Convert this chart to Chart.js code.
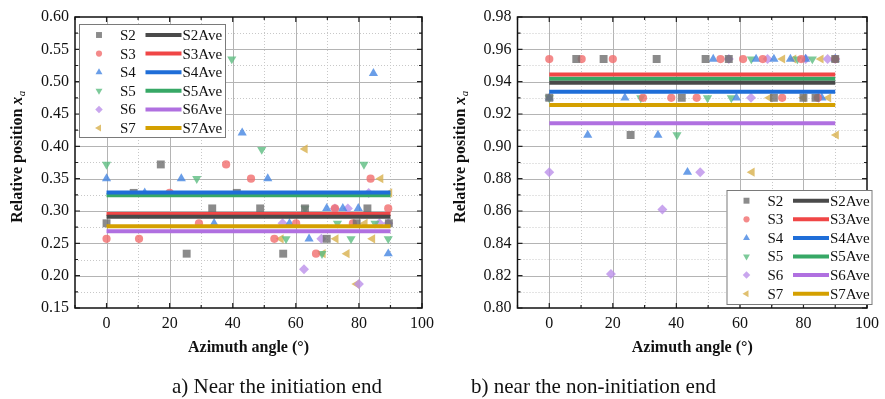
<!DOCTYPE html>
<html>
<head>
<meta charset="utf-8">
<script src="https://cdn.jsdelivr.net/npm/chart.js@4.4.1/dist/chart.umd.min.js"></script>
<style>
  body { margin: 0; background: #fff; width: 885px; height: 399px; overflow: hidden; position: relative; font-family: "Liberation Serif", serif; }
  #wa { position: absolute; left: 0; top: 0; width: 440px; height: 399px; }
  #wb { position: absolute; left: 440px; top: 0; width: 445px; height: 399px; }
  .cap { position: absolute; top: 373px; font-size: 21px; line-height: 26px; white-space: nowrap; color: #111; }
</style>
</head>
<body>
<div id="wa"><canvas id="chartA" width="440" height="399"></canvas></div>
<div id="wb"><canvas id="chartB" width="445" height="399"></canvas></div>
<div class="cap" style="left:172px">a) Near the initiation end</div>
<div class="cap" style="left:471px">b) near the non-initiation end</div>
<script>
// series names
var seriesNames = ['S2', 'S3', 'S4', 'S5', 'S6', 'S7'];
var aveNames = ['S2Ave', 'S3Ave', 'S4Ave', 'S5Ave', 'S6Ave', 'S7Ave'];

// a) near the initiation end  (angle, relative position)
var angA_S2 = [0, 8.6, 17.2, 25.4, 33.5, 41.3, 48.7, 56, 62.9, 69.8, 79.3, 82.7, 89.5];
var posA_S2 = [0.281, 0.328, 0.372, 0.234, 0.304, 0.328, 0.304, 0.234, 0.304, 0.257, 0.281, 0.304, 0.281];
var angA_S3 = [0, 10.3, 20, 29.3, 37.9, 45.8, 53.2, 60.1, 66.4, 72.4, 78.1, 83.7, 89.3];
var posA_S3 = [0.257, 0.257, 0.328, 0.281, 0.372, 0.35, 0.257, 0.281, 0.234, 0.304, 0.281, 0.35, 0.304];
var angA_S4 = [0, 12.1, 23.7, 34.1, 43, 51.1, 58, 64.2, 69.8, 74.9, 79.8, 84.6, 89.3];
var posA_S4 = [0.35, 0.328, 0.35, 0.281, 0.421, 0.35, 0.281, 0.257, 0.304, 0.304, 0.304, 0.513, 0.234];
var angA_S5 = [0, 28.6, 39.7, 49.2, 56.9, 62.9, 68.3, 73.2, 77.5, 81.6, 85.1, 89.3];
var posA_S5 = [0.372, 0.35, 0.535, 0.395, 0.257, 0.304, 0.234, 0.281, 0.257, 0.372, 0.281, 0.257];
var angA_S6 = [55.8, 62.6, 68.1, 72.4, 76.5, 80, 83.1, 86.5, 89.3];
var posA_S6 = [0.281, 0.21, 0.257, 0.304, 0.304, 0.187, 0.328, 0.281, 0.281];
var angA_S7 = [55.3, 62.9, 68.6, 72.7, 76.2, 79.3, 81.9, 84.3, 86.9, 89.7];
var posA_S7 = [0.257, 0.396, 0.234, 0.257, 0.234, 0.187, 0.281, 0.257, 0.35, 0.328];
var aveA = [0.2913, 0.2952, 0.3285, 0.3245, 0.2687, 0.2764];

// b) near the non-initiation end
var angB_S2 = [0, 8.5, 17.1, 25.6, 33.8, 41.7, 49.2, 56.5, 70.7, 80, 83.8, 90];
var posB_S2 = [0.930, 0.954, 0.954, 0.907, 0.954, 0.930, 0.954, 0.954, 0.930, 0.930, 0.930, 0.954];
var angB_S3 = [0, 10.2, 20, 29.5, 38.4, 46.4, 53.9, 61, 67.2, 73.3, 79.3, 84.5, 90];
var posB_S3 = [0.954, 0.954, 0.954, 0.930, 0.930, 0.930, 0.954, 0.954, 0.954, 0.930, 0.954, 0.930, 0.954];
var angB_S4 = [0, 12.1, 23.8, 34.2, 43.5, 51.6, 58.9, 65.1, 70.7, 75.9, 80.7, 85.8, 90];
var posB_S4 = [0.930, 0.907, 0.930, 0.907, 0.884, 0.954, 0.930, 0.954, 0.954, 0.954, 0.954, 0.930, 0.954];
var angB_S5 = [0, 28.8, 40.2, 49.8, 57.3, 63.6, 78.1, 82.8];
var posB_S5 = [0.930, 0.930, 0.907, 0.930, 0.930, 0.954, 0.954, 0.954];
var angB_S6 = [0, 19.4, 35.6, 47.5, 56.5, 63.5, 68.7, 80.7, 84.8, 87.6, 90];
var posB_S6 = [0.884, 0.821, 0.861, 0.884, 0.954, 0.930, 0.954, 0.954, 0.930, 0.954, 0.954];
var angB_S7 = [63.8, 69.3, 73.4, 76.9, 80, 85.5, 87.9, 90.3];
var posB_S7 = [0.884, 0.930, 0.954, 0.954, 0.930, 0.954, 0.930, 0.907];
var aveB = [0.9393, 0.9445, 0.9338, 0.9418, 0.9143, 0.9255];

// average lines run over the measured range
var aveSpan = [0, 90];

// tick labels
var xTickLabels = [0, 20, 40, 60, 80, 100];
var yTickLabelsA = [0.15, 0.20, 0.25, 0.30, 0.35, 0.40, 0.45, 0.50, 0.55, 0.60];
var yTickLabelsB = [0.80, 0.82, 0.84, 0.86, 0.88, 0.90, 0.92, 0.94, 0.96, 0.98];

// styles
var markerColors = ['rgba(110,110,110,0.8)', 'rgba(241,109,109,0.8)', 'rgba(69,134,226,0.8)',
                    'rgba(92,189,129,0.8)', 'rgba(188,144,234,0.8)', 'rgba(216,176,76,0.8)'];
var lineColors = ['#4a4a4a', '#f04646', '#1f6ed8', '#37a866', '#b070e0', '#d4a000'];
var markerStyles = ['rect', 'circle', 'triangle', 'triangle', 'rectRot', 'triangle'];
var markerRot = [0, 0, 0, 180, 0, 270];
var markerSize = [5.6, 4.1, 5.3, 5.3, 5, 5.3];

var FONT = '"Liberation Serif", "Times New Roman", serif';

function pts(xs, ys) {
  return xs.map(function (v, i) { return { x: v, y: ys[i] }; });
}

function buildDatasets(angles, positions, aves) {
  var sets = [];
  seriesNames.forEach(function (name, i) {
    sets.push({
      type: 'scatter',
      label: name,
      data: pts(angles[i], positions[i]),
      pointStyle: markerStyles[i],
      rotation: markerRot[i],
      radius: markerSize[i],
      pointRadius: markerSize[i],
      pointHoverRadius: markerSize[i],
      backgroundColor: markerColors[i],
      borderWidth: 0,
      order: 2
    });
  });
  aveNames.forEach(function (name, i) {
    sets.push({
      type: 'line',
      label: name,
      data: pts(aveSpan, [aves[i], aves[i]]),
      borderColor: lineColors[i],
      borderWidth: 4,
      borderCapStyle: 'butt',
      pointRadius: 0,
      fill: false,
      order: 1
    });
  });
  return sets;
}

function drawMarker(ctx, style, rot, r, x, y) {
  ctx.save();
  ctx.translate(x, y);
  ctx.rotate(rot * Math.PI / 180);
  ctx.beginPath();
  if (style === 'rect') {
    var s = r * Math.SQRT1_2;
    ctx.rect(-s, -s, 2 * s, 2 * s);
  } else if (style === 'circle') {
    ctx.arc(0, 0, r, 0, Math.PI * 2);
  } else if (style === 'rectRot') {
    ctx.moveTo(0, -r); ctx.lineTo(r, 0); ctx.lineTo(0, r); ctx.lineTo(-r, 0);
  } else {
    ctx.moveTo(0, -r);
    ctx.lineTo(r * Math.cos(Math.PI / 6), r * Math.sin(Math.PI / 6));
    ctx.lineTo(-r * Math.cos(Math.PI / 6), r * Math.sin(Math.PI / 6));
  }
  ctx.closePath();
  ctx.fill();
  ctx.restore();
}

// grid, frame, inward ticks, titles and the two-column legend
var decor = {
  id: 'decor',
  beforeDatasetsDraw: function (chart, args, o) {
    var ctx = chart.ctx, a = chart.chartArea, xs = chart.scales.x, ys = chart.scales.y;
    ctx.save();
    ctx.lineWidth = 1;
    var i, v, p;
    for (i = 1; i < 11; i++) {
      v = -10 + i * 10;
      p = Math.round(xs.getPixelForValue(v)) + 0.5;
      if (v % 20 === 0) { ctx.setLineDash([]); ctx.strokeStyle = '#b4b4b4'; }
      else { ctx.setLineDash([1, 2]); ctx.strokeStyle = '#c8c8c8'; }
      ctx.beginPath(); ctx.moveTo(p, a.top); ctx.lineTo(p, a.bottom); ctx.stroke();
    }
    for (i = 1; i < o.yCount; i++) {
      v = o.yMin + i * o.yStep;
      p = Math.round(ys.getPixelForValue(v)) + 0.5;
      if (i % 2 === 0) { ctx.setLineDash([]); ctx.strokeStyle = '#b4b4b4'; }
      else { ctx.setLineDash([1, 2]); ctx.strokeStyle = '#c8c8c8'; }
      ctx.beginPath(); ctx.moveTo(a.left, p); ctx.lineTo(a.right, p); ctx.stroke();
    }
    ctx.restore();
  },
  afterDatasetsDraw: function (chart, args, o) {
    var ctx = chart.ctx, a = chart.chartArea, xs = chart.scales.x, ys = chart.scales.y;
    ctx.save();
    ctx.setLineDash([]);
    ctx.strokeStyle = '#222';
    ctx.lineWidth = 1.2;
    var i, v, p, len;
    for (i = 0; i <= 11; i++) {
      v = -10 + i * 10;
      p = xs.getPixelForValue(v);
      len = v % 20 === 0 ? 5 : 3;
      ctx.beginPath();
      ctx.moveTo(p, a.bottom); ctx.lineTo(p, a.bottom - len);
      ctx.moveTo(p, a.top); ctx.lineTo(p, a.top + len);
      ctx.stroke();
    }
    for (i = 0; i <= o.yCount; i++) {
      v = o.yMin + i * o.yStep;
      p = ys.getPixelForValue(v);
      len = i % 2 === 0 ? 5 : 3;
      ctx.beginPath();
      ctx.moveTo(a.left, p); ctx.lineTo(a.left + len, p);
      ctx.moveTo(a.right, p); ctx.lineTo(a.right - len, p);
      ctx.stroke();
    }
    ctx.lineWidth = 1.5;
    ctx.strokeStyle = '#111';
    ctx.strokeRect(a.left, a.top, a.right - a.left, a.bottom - a.top);

    // axis titles
    ctx.fillStyle = '#111';
    ctx.font = 'bold 16px ' + FONT;
    ctx.textAlign = 'center';
    ctx.textBaseline = 'middle';
    ctx.fillText('Azimuth angle (°)', (a.left + a.right) / 2, 348);

    ctx.save();
    ctx.translate(o.yTitleX, o.yTitleY);
    ctx.rotate(-Math.PI / 2);
    ctx.textBaseline = 'alphabetic';
    ctx.textAlign = 'left';
    var t1 = 'Relative position ';
    ctx.font = 'bold 16px ' + FONT;
    var w1 = ctx.measureText(t1).width;
    ctx.font = 'bold italic 16px ' + FONT;
    var w2 = ctx.measureText('x').width;
    ctx.font = 'italic 11px ' + FONT;
    var w3 = ctx.measureText('a').width;
    var x0 = -(w1 + w2 + w3) / 2;
    ctx.font = 'bold 16px ' + FONT;
    ctx.fillText(t1, x0, 0);
    ctx.font = 'bold italic 16px ' + FONT;
    ctx.fillText('x', x0 + w1, 0);
    ctx.font = 'italic 11px ' + FONT;
    ctx.fillText('a', x0 + w1 + w2 + 0.5, 3);
    ctx.restore();

    // legend
    var L = o.legend;
    ctx.fillStyle = '#fff';
    ctx.fillRect(L.x, L.y, L.w, L.h);
    ctx.lineWidth = 1;
    ctx.strokeStyle = '#7a7a7a';
    ctx.strokeRect(L.x + 0.5, L.y + 0.5, L.w, L.h);
    ctx.font = '15px ' + FONT;
    ctx.textBaseline = 'middle';
    ctx.textAlign = 'left';
    seriesNames.forEach(function (name, k) {
      var yy = L.row0 + k * 18.6;
      ctx.fillStyle = markerColors[k];
      drawMarker(ctx, markerStyles[k], markerRot[k], markerSize[k] * 0.75, L.x + 20, yy);
      ctx.fillStyle = '#111';
      ctx.fillText(name, L.x + 41, yy + 1);
      ctx.strokeStyle = lineColors[k];
      ctx.lineWidth = 4;
      ctx.beginPath(); ctx.moveTo(L.x + 66.5, yy); ctx.lineTo(L.x + 102.5, yy); ctx.stroke();
      ctx.fillStyle = '#111';
      ctx.fillText(aveNames[k], L.x + 103.5, yy + 1);
    });
    ctx.restore();
  }
};

function makeChart(id, angles, positions, aves, cfg) {
  return new Chart(document.getElementById(id), {
    type: 'scatter',
    data: { datasets: buildDatasets(angles, positions, aves) },
    plugins: [decor],
    options: {
      responsive: false,
      animation: false,
      events: [],
      layout: { padding: { top: 17, right: cfg.padRight, bottom: 61, left: 0 } },
      plugins: {
        legend: { display: false },
        tooltip: { enabled: false },
        decor: cfg.decor
      },
      scales: {
        x: {
          type: 'linear',
          min: -10, max: 100,
          grid: { display: false, drawTicks: false },
          border: { display: false },
          afterFit: function (s) { s.height = 30; },
          ticks: {
            stepSize: 10, autoSkip: false, maxRotation: 0, padding: 6,
            color: '#111',
            font: { family: FONT, size: 16 },
            callback: function (v) { return xTickLabels.indexOf(Math.round(v)) >= 0 && Math.abs(v - Math.round(v)) < 1e-6 ? String(Math.round(v)) : ''; }
          }
        },
        y: {
          type: 'linear',
          min: cfg.yMin, max: cfg.yMax,
          grid: { display: false, drawTicks: false },
          border: { display: false },
          afterFit: function (s) { s.width = cfg.yWidth; },
          ticks: {
            stepSize: cfg.yStep, autoSkip: false, padding: 6,
            color: '#111',
            font: { family: FONT, size: 16 },
            callback: function (v) {
              for (var i = 0; i < cfg.yLabels.length; i++) {
                if (Math.abs(v - cfg.yLabels[i]) < 1e-6) return cfg.yLabels[i].toFixed(2);
              }
              return '';
            }
          }
        }
      }
    }
  });
}

var chartA = makeChart('chartA',
  [angA_S2, angA_S3, angA_S4, angA_S5, angA_S6, angA_S7],
  [posA_S2, posA_S3, posA_S4, posA_S5, posA_S6, posA_S7],
  aveA,
  {
    padRight: 7.5, yWidth: 75, yMin: 0.15, yMax: 0.60, yStep: 0.025, yLabels: yTickLabelsA,
    decor: {
      yMin: 0.15, yStep: 0.025, yCount: 18, yTitleX: 22, yTitleY: 157,
      legend: { x: 79, y: 24, w: 146, h: 113, row0: 35 }
    }
  });

var chartB = makeChart('chartB',
  [angB_S2, angB_S3, angB_S4, angB_S5, angB_S6, angB_S7],
  [posB_S2, posB_S3, posB_S4, posB_S5, posB_S6, posB_S7],
  aveB,
  {
    padRight: 10.7, yWidth: 77.5, yMin: 0.80, yMax: 0.98, yStep: 0.01, yLabels: yTickLabelsB,
    decor: {
      yMin: 0.80, yStep: 0.01, yCount: 18, yTitleX: 25, yTitleY: 157,
      legend: { x: 286.5, y: 190, w: 145, h: 114, row0: 200.7 }
    }
  });
</script>
</body>
</html>
